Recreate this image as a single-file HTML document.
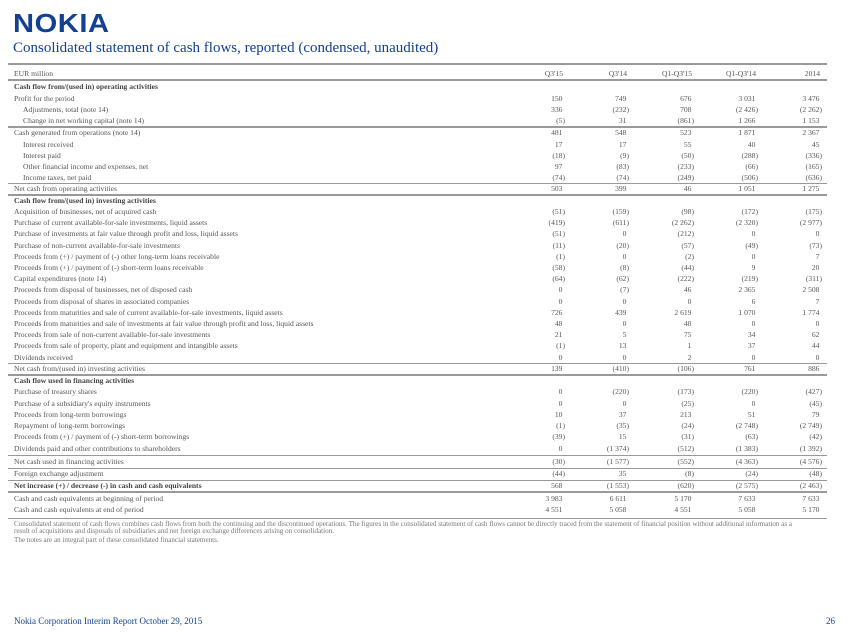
<!DOCTYPE html>
<html><head><meta charset="utf-8">
<style>
*{margin:0;padding:0;box-sizing:border-box}
body{width:852px;height:635px;background:#fff;position:relative;overflow:hidden;font-family:"Liberation Serif",serif;color:#555}
.logo{position:absolute;left:13px;top:8px;font-family:"Liberation Sans",sans-serif;font-weight:bold;font-size:26px;color:#124191;letter-spacing:0.5px;transform:scaleX(1.12);transform-origin:left top}
.title{position:absolute;left:13px;top:40px;font-size:15px;color:#124191;white-space:nowrap}
.ln{position:absolute;left:8px;width:819px;height:2px;background:#999}
.r{position:absolute;left:0;width:852px;height:10px;line-height:10px;font-size:7.6px;white-space:nowrap}
.r .l{position:absolute;left:14px}
.r .l.i{left:23px}
.r.b .l{font-weight:bold;color:#444}
.r .v{position:absolute;text-align:right;width:70px}
.h{visibility:hidden}
.fn{position:absolute;left:14px;font-size:7.1px;color:#777;white-space:nowrap;line-height:7px}
.foot{position:absolute;left:14px;top:616px;font-size:9px;color:#124191}
.pg{position:absolute;left:826px;top:616px;font-size:9px;color:#124191}
</style></head><body>
<div class="logo">NOKIA</div>
<div class="title">Consolidated statement of cash flows, reported (condensed, unaudited)</div>

<div class="ln" style="top:63px"></div>
<div class="ln" style="top:79px"></div>
<div class="ln" style="top:126px;height:1.5px"></div>
<div class="ln" style="top:182.5px;height:1.5px"></div>
<div class="ln" style="top:194px;height:1.5px"></div>
<div class="ln" style="top:362.5px;height:1.5px"></div>
<div class="ln" style="top:374px;height:1.5px"></div>
<div class="ln" style="top:454.5px;height:1.5px"></div>
<div class="ln" style="top:467.5px;height:1.5px"></div>
<div class="ln" style="top:479.5px;height:1.5px"></div>
<div class="ln" style="top:491px;height:1.5px"></div>
<div class="ln" style="top:517.5px;height:1.5px"></div>

<div id="rows"></div>
<script>
var cols=[565,629,694,758,822];
var rows=[
[74,"EUR million",0,0,["Q3'15","Q3'14","Q1-Q3'15","Q1-Q3'14","2014"]],
[87.3,"Cash flow from/(used in) operating activities",0,1,null],
[98.7,"Profit for the period",0,0,["150","749","676","3 031","3 476"]],
[110,"Adjustments, total (note 14)",1,0,["336","(232)","708","(2 426)","(2 262)"]],
[121.3,"Change in net working capital (note 14)",1,0,["(5)","31","(861)","1 266","1 153"]],
[133.3,"Cash generated from operations (note 14)",0,0,["481","548","523","1 871","2 367"]],
[144.7,"Interest received",1,0,["17","17","55","40","45"]],
[156,"Interest paid",1,0,["(18)","(9)","(50)","(288)","(336)"]],
[167.3,"Other financial income and expenses, net",1,0,["97","(83)","(233)","(66)","(165)"]],
[178.3,"Income taxes, net paid",1,0,["(74)","(74)","(249)","(506)","(636)"]],
[189.3,"Net cash from operating activities",0,0,["503","399","46","1 051","1 275"]],
[200.7,"Cash flow from/(used in) investing activities",0,1,null],
[211.9,"Acquisition of businesses, net of acquired cash",0,0,["(51)","(159)","(98)","(172)","(175)"]],
[223.1,"Purchase of current available-for-sale investments, liquid assets",0,0,["(419)","(611)","(2 262)","(2 320)","(2 977)"]],
[234.3,"Purchase of investments at fair value through profit and loss, liquid assets",0,0,["(51)","0","(212)","0","0"]],
[245.5,"Purchase of non-current available-for-sale investments",0,0,["(11)","(20)","(57)","(49)","(73)"]],
[256.7,"Proceeds from (+) / payment of (-) other long-term loans receivable",0,0,["(1)","0","(2)","0","7"]],
[267.9,"Proceeds from (+) / payment of (-) short-term loans receivable",0,0,["(58)","(8)","(44)","9","20"]],
[279.1,"Capital expenditures (note 14)",0,0,["(64)","(62)","(222)","(219)","(311)"]],
[290.3,"Proceeds from disposal of businesses, net of disposed cash",0,0,["0","(7)","46","2 365","2 508"]],
[301.5,"Proceeds from disposal of shares in associated companies",0,0,["0","0","0","6","7"]],
[312.7,"Proceeds from maturities and sale of current available-for-sale investments, liquid assets",0,0,["726","439","2 619","1 070","1 774"]],
[323.9,"Proceeds from maturities and sale of investments at fair value through profit and loss, liquid assets",0,0,["48","0","48","0","0"]],
[335.1,"Proceeds from sale of non-current available-for-sale investments",0,0,["21","5","75","34","62"]],
[346.3,"Proceeds from sale of property, plant and equipment and intangible assets",0,0,["(1)","13","1","37","44"]],
[357.5,"Dividends received",0,0,["0","0","2","0","0"]],
[369.3,"Net cash from/(used in) investing activities",0,0,["139","(410)","(106)","761","886"]],
[381,"Cash flow used in financing activities",0,1,null],
[392.3,"Purchase of treasury shares",0,0,["0","(220)","(173)","(220)","(427)"]],
[403.5,"Purchase of a subsidiary's equity instruments",0,0,["0","0","(25)","0","(45)"]],
[414.7,"Proceeds from long-term borrowings",0,0,["10","37","213","51","79"]],
[425.9,"Repayment of long-term borrowings",0,0,["(1)","(35)","(24)","(2 748)","(2 749)"]],
[437.1,"Proceeds from (+) / payment of (-) short-term borrowings",0,0,["(39)","15","(31)","(63)","(42)"]],
[448.6,"Dividends paid and other contributions to shareholders",0,0,["0","(1 374)","(512)","(1 383)","(1 392)"]],
[461.7,"Net cash used in financing activities",0,0,["(30)","(1 577)","(552)","(4 363)","(4 576)"]],
[473.7,"Foreign exchange adjustment",0,0,["(44)","35","(8)","(24)","(48)"]],
[486,"Net increase (+) / decrease (-) in cash and cash equivalents",0,1,["568","(1 553)","(620)","(2 575)","(2 463)"]],
[498.7,"Cash and cash equivalents at beginning of period",0,0,["3 983","6 611","5 170","7 633","7 633"]],
[510,"Cash and cash equivalents at end of period",0,0,["4 551","5 058","4 551","5 058","5 170"]]
];
var h="";
rows.forEach(function(r){
 h+='<div class="r'+(r[3]?' b':'')+'" style="top:'+(r[0]-5)+'px"><span class="l'+(r[2]?' i':'')+'">'+r[1]+'</span>';
 if(r[4]) r[4].forEach(function(v,i){
   var p=(v.slice(-1)==")"||r[0]==74)?v:v+'<span class="h">)</span>';
   var off=(r[0]==74)?2:0;
   h+='<span class="v" style="left:'+(cols[i]-70-off)+'px;font-weight:normal">'+p+'</span>';
 });
 h+='</div>';
});
document.getElementById("rows").innerHTML=h;
</script>

<div class="fn" style="top:520.5px">Consolidated statement of cash flows combines cash flows from both the continuing and the discontinued operations. The figures in the consolidated statement of cash flows cannot be directly traced from the statement of financial position without additional information as a<br>result of acquisitions and disposals of subsidiaries and net foreign exchange differences arising on consolidation.</div>
<div class="fn" style="top:537px">The notes are an integral part of these consolidated financial statements.</div>
<div class="foot">Nokia Corporation Interim Report October 29, 2015</div>
<div class="pg">26</div>
</body></html>
